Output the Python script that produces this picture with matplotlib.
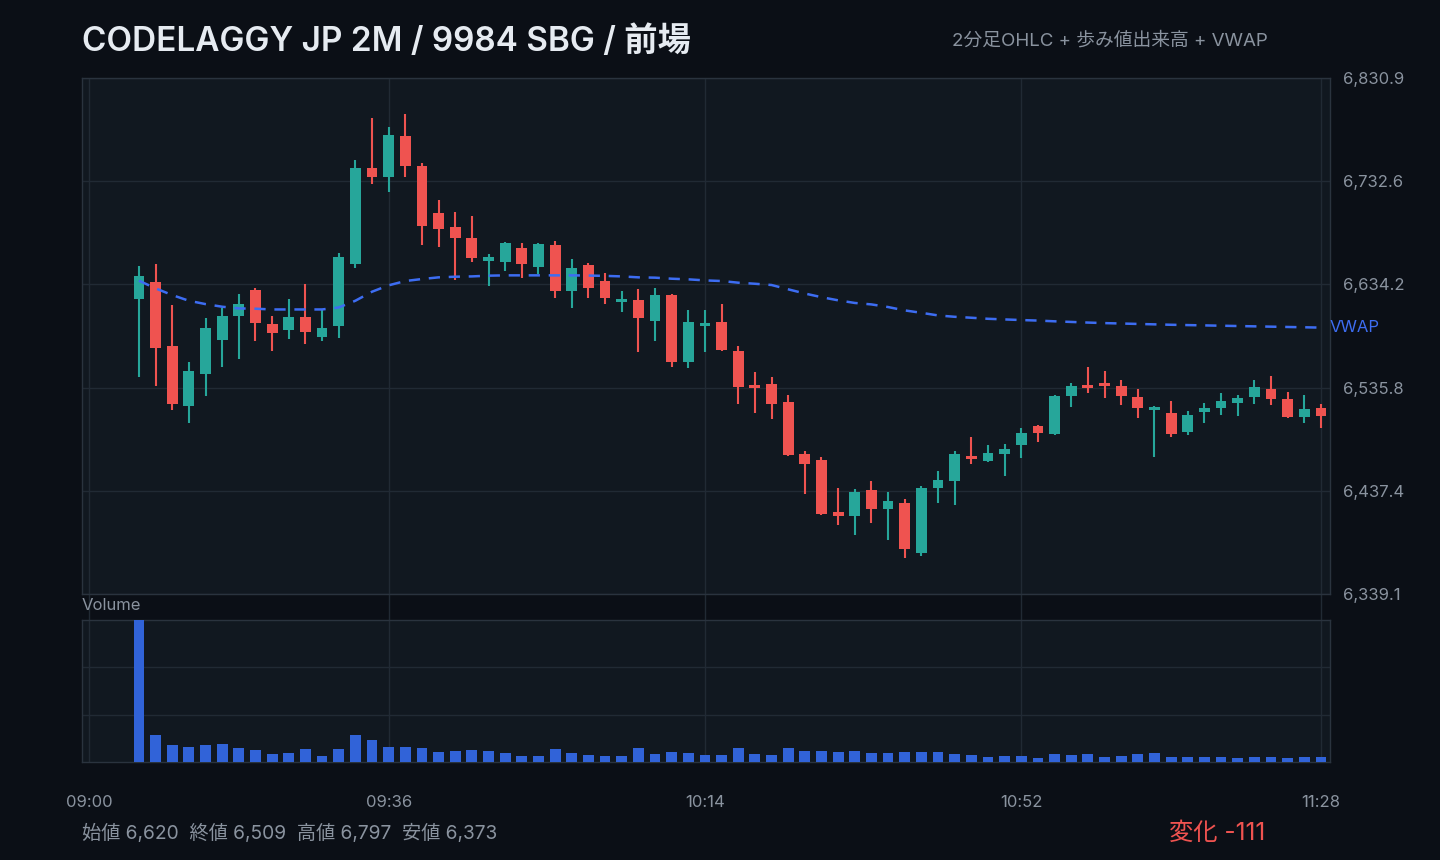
import matplotlib.pyplot as plt
import matplotlib.transforms as mtransforms
import numpy as np

plt.rcParams['font.family'] = ['Inter', 'Noto Sans CJK JP', 'DejaVu Sans']

# 2-minute bars from 09:06 to 11:28 (minutes after 09:00)
first_bar = 6
bar_step = 2

opens = [6620.0, 6636.4, 6575.3, 6518.4, 6548.9, 6581.4, 6604.3, 6628.8, 6596.3, 6590.9,
         6603.0, 6584.2, 6594.7, 6654.0, 6745.3, 6736.1, 6775.9, 6747.2, 6702.3, 6689.0,
         6678.4, 6656.5, 6655.5, 6668.9, 6650.8, 6671.8, 6627.8, 6652.7, 6637.4, 6617.3,
         6619.2, 6599.2, 6624.0, 6560.0, 6594.4, 6598.2, 6570.5, 6538.1, 6539.0, 6521.8,
         6472.2, 6466.5, 6416.8, 6413.0, 6437.8, 6419.7, 6425.4, 6378.6, 6439.7, 6446.4,
         6470.3, 6465.5, 6472.2, 6480.8, 6498.9, 6491.3, 6527.6, 6538.1, 6540.0, 6537.1,
         6526.6, 6514.2, 6511.3, 6493.2, 6512.3, 6516.1, 6520.9, 6526.6, 6534.2, 6524.7,
         6507.5, 6516.1]
highs = [6651.7, 6653.6, 6614.5, 6560.0, 6602.1, 6611.3, 6625.0, 6630.7, 6604.0, 6620.2,
         6634.5, 6609.7, 6664.1, 6753.0, 6793.0, 6784.5, 6797.0, 6750.1, 6714.7, 6703.0,
         6699.5, 6663.2, 6674.5, 6673.7, 6673.7, 6675.6, 6658.4, 6654.6, 6645.0, 6627.8,
         6629.7, 6630.7, 6625.0, 6609.7, 6609.7, 6615.4, 6575.3, 6550.5, 6545.7, 6528.5,
         6475.0, 6469.3, 6439.7, 6438.8, 6446.4, 6435.9, 6429.2, 6441.6, 6455.9, 6475.0,
         6488.4, 6480.8, 6481.7, 6497.0, 6499.9, 6528.5, 6540.0, 6555.3, 6551.4, 6542.8,
         6534.2, 6518.0, 6522.8, 6513.2, 6520.9, 6530.4, 6528.5, 6542.8, 6546.7, 6531.4,
         6528.5, 6519.9]
lows = [6546.0, 6537.5, 6514.6, 6502.1, 6527.9, 6555.6, 6563.2, 6580.4, 6570.9, 6582.3,
        6577.6, 6580.4, 6583.3, 6650.2, 6730.3, 6722.7, 6737.0, 6672.1, 6669.9, 6638.3,
        6655.5, 6632.6, 6646.9, 6640.2, 6644.1, 6621.2, 6611.6, 6621.2, 6615.4, 6607.8,
        6569.6, 6580.1, 6555.3, 6554.3, 6569.6, 6570.5, 6519.9, 6511.3, 6505.6, 6470.3,
        6434.0, 6414.0, 6404.4, 6395.8, 6406.3, 6391.0, 6373.0, 6375.0, 6425.4, 6424.4,
        6462.6, 6464.5, 6451.2, 6468.4, 6483.6, 6490.3, 6517.1, 6530.4, 6525.6, 6519.0,
        6506.6, 6469.3, 6488.4, 6490.3, 6501.8, 6509.4, 6508.5, 6519.9, 6519.0, 6506.6,
        6501.8, 6497.0]
closes = [6642.2, 6573.7, 6520.3, 6551.5, 6592.5, 6604.0, 6615.4, 6597.6, 6588.1, 6603.0,
          6589.0, 6592.5, 6660.3, 6745.3, 6736.1, 6776.8, 6746.6, 6690.2, 6687.0, 6678.4,
          6659.4, 6660.3, 6673.7, 6653.6, 6672.7, 6627.8, 6649.8, 6630.7, 6621.2, 6620.2,
          6602.1, 6624.0, 6560.0, 6598.2, 6597.3, 6571.5, 6536.1, 6535.2, 6519.9, 6471.2,
          6462.6, 6414.9, 6413.0, 6435.9, 6419.7, 6427.3, 6382.4, 6439.7, 6447.4, 6472.2,
          6467.4, 6473.1, 6477.0, 6492.2, 6492.2, 6527.6, 6537.1, 6535.8, 6537.1, 6527.6,
          6516.1, 6517.1, 6491.3, 6509.4, 6516.1, 6522.8, 6525.6, 6536.2, 6524.7, 6507.5,
          6515.2, 6509.0]
volumes = [42800, 8000, 5000, 4400, 5000, 5300, 4100, 3500, 2300, 2600,
           3800, 1700, 3800, 8000, 6500, 4400, 4400, 4100, 2900, 3200,
           3500, 3200, 2600, 1700, 1700, 3800, 2600, 2000, 1700, 1700,
           4100, 2300, 2900, 2600, 2000, 2000, 4100, 2300, 2000, 4100,
           3200, 3200, 2900, 3200, 2600, 2600, 2900, 2900, 2900, 2300,
           2000, 1400, 1700, 1700, 1100, 2300, 2000, 2300, 1400, 1700,
           2300, 2600, 1400, 1400, 1400, 1400, 1100, 1400, 1400, 1100,
           1400, 1400]
vwap = [6637.7, 6630.4, 6624.0, 6618.6, 6615.4, 6612.9, 6611.3, 6611.0, 6610.3, 6610.3,
        6610.3, 6610.3, 6612.2, 6618.6, 6627.2, 6633.3, 6637.4, 6639.3, 6640.9, 6641.5,
        6641.8, 6642.5, 6642.8, 6642.8, 6642.8, 6642.8, 6642.8, 6642.6, 6642.3, 6641.8,
        6640.9, 6640.6, 6639.6, 6639.0, 6638.0, 6637.4, 6635.8, 6634.8, 6633.6, 6629.5,
        6625.5, 6622.0, 6619.0, 6616.5, 6615.1, 6612.6, 6609.4, 6607.1, 6604.6, 6603.3,
        6602.4, 6601.4, 6600.8, 6600.2, 6599.7, 6599.0, 6598.4, 6597.8, 6597.3, 6596.9,
        6596.5, 6596.1, 6595.7, 6595.4, 6595.1, 6594.8, 6594.5, 6594.2, 6593.9, 6593.6,
        6593.3, 6593.0]

time_ticks = [0, 36, 74, 112, 148]
time_labels = ['09:00', '09:36', '10:14', '10:52', '11:28']
price_ticks = [6339.1, 6437.4, 6535.8, 6634.2, 6732.6, 6830.9]

BG = '#0b0f16'
PANEL = '#111820'
GRID = '#212a34'
SPINE = '#2a333e'
UP = '#26a69a'
DOWN = '#ef5350'
VOL = '#3163d8'
VWAP_C = '#3d6df2'
MUTED = '#8a939f'

W, H = 1440, 860
fig = plt.figure(figsize=(14.4, 8.6), dpi=100, facecolor=BG)
ax = fig.add_axes([82 / W, 1 - 594 / H, 1248 / W, 516 / H])
axv = fig.add_axes([82 / W, 1 - 762 / H, 1248 / W, 142 / H], sharex=ax)

x = np.arange(len(opens)) * bar_step + first_bar
o = np.array(opens)
c = np.array(closes)
up = c >= o
colors = np.where(up, UP, DOWN)

for a in (ax, axv):
    a.set_facecolor(PANEL)
    for s in a.spines.values():
        s.set_color(SPINE)
        s.set_linewidth(1)
    a.grid(True, color=GRID, linewidth=1)
    a.set_axisbelow(True)
    a.tick_params(length=0, colors=MUTED, labelsize=12)

# candles
ax.vlines(x, lows, highs, colors=colors, linewidth=1.5, zorder=2)
body = np.maximum(np.abs(c - o), 2.0)
ax.bar(x, body, bottom=np.minimum(o, c), width=1.3, color=colors, zorder=3)

ax.plot(x, vwap, color=VWAP_C, linewidth=1.8, linestyle=(0, (4.5, 3.5)), zorder=4)
ax.text(1.0, vwap[-1], 'VWAP', color=VWAP_C, fontsize=12, va='center', ha='left',
        transform=mtransforms.blended_transform_factory(ax.transAxes, ax.transData))

ax.set_xlim(-0.84, 149.09)
ax.set_ylim(price_ticks[0], price_ticks[-1])
ax.set_xticks(time_ticks)
ax.set_yticks(price_ticks)
ax.set_yticklabels([f'{v:,.1f}' for v in price_ticks])
ax.yaxis.tick_right()
ax.tick_params(axis='y', pad=9)
ax.tick_params(axis='x', labelbottom=False)

# vertical grid continues through the gap between panels
ax.vlines(time_ticks, -26 / 516, 0, transform=ax.get_xaxis_transform(),
          colors=GRID, linewidth=1, clip_on=False)

# volume
axv.bar(x, volumes, width=1.3, color=VOL, zorder=3)
vmax = max(volumes)
axv.set_ylim(0, vmax)
axv.set_yticks([vmax / 3, vmax * 2 / 3])
axv.tick_params(axis='y', labelleft=False, labelright=False)
axv.set_xticks(time_ticks)
axv.set_xticklabels(time_labels)
axv.tick_params(axis='x', pad=24)
fig.text(82 / W, 1 - 606 / H, 'Volume', color=MUTED, fontsize=12, va='center', ha='left')

# header
fig.text(82 / W, 1 - 42 / H, 'CODELAGGY JP 2M / 9984 SBG / 前場', color='#e6ebf1',
         fontsize=24, fontweight='semibold', va='center', ha='left')
fig.text(1268 / W, 1 - 41 / H, '2分足OHLC + 歩み値出来高 + VWAP', color=MUTED,
         fontsize=13.5, va='center', ha='right')

# footer summary
o0 = opens[0]
cl = closes[-1]
hi = max(highs)
lo = min(lows)
summary = f'始値 {o0:,.0f}  終値 {cl:,.0f}  高値 {hi:,.0f}  安値 {lo:,.0f}'
fig.text(82 / W, 1 - 833 / H, summary, color=MUTED, fontsize=13.8, va='center', ha='left')
fig.text(1265 / W, 1 - 833 / H, f'変化 {cl - o0:,.0f}', color=DOWN,
         fontsize=17.5, va='center', ha='right')

fig.savefig('out.png', dpi=100, facecolor=BG)
